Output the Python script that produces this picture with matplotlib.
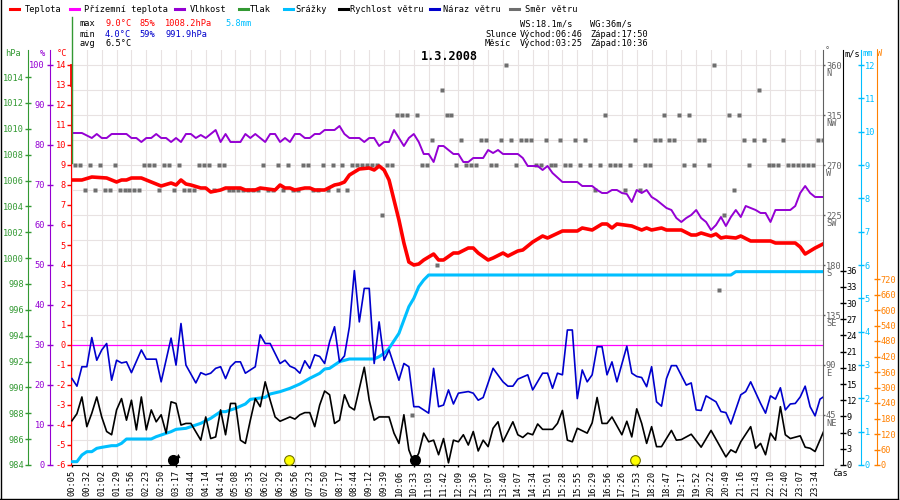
import numpy as np
import matplotlib
matplotlib.use("Agg")
import matplotlib.pyplot as plt
from matplotlib.lines import Line2D
from matplotlib.transforms import blended_transform_factory

# ---------------------------------------------------------------- data
TIME_LABELS = ["00:05", "00:32", "01:02", "01:29", "01:56", "02:23", "02:50", "03:17",
               "03:44", "04:14", "04:41", "05:08", "05:35", "06:02", "06:29", "06:56",
               "07:23", "07:50", "08:17", "08:44", "09:12", "09:39", "10:06", "10:33",
               "11:03", "11:42", "12:09", "12:36", "13:07", "13:40", "14:07", "14:34",
               "15:01", "15:28", "15:55", "16:29", "16:56", "17:26", "17:53", "18:20",
               "18:47", "19:17", "19:52", "20:22", "20:49", "21:16", "21:43", "22:10",
               "22:40", "23:07", "23:34"]
SAMPLES_PER_TICK = 3

# (sample index, value)
TEMPERATURE = [(0, 8.25), (2, 8.25), (4, 8.4), (7, 8.35), (9, 8.15), (10, 8.25), (11, 8.25),
               (12, 8.35), (14, 8.35), (16, 8.15), (18, 7.95), (20, 8.1), (21, 8.0), (22, 8.25),
               (23, 8.05), (24, 8.0), (26, 7.85), (27, 7.85), (28, 7.65), (30, 7.75), (31, 7.85),
               (34, 7.85), (35, 7.75), (37, 7.75), (38, 7.85), (41, 7.75), (42, 8.0), (43, 7.85),
               (44, 7.85), (45, 7.75), (47, 7.85), (48, 7.85), (49, 7.75), (51, 7.75), (53, 8.0),
               (54, 8.05), (55, 8.15), (56, 8.5), (58, 8.8), (60, 8.85), (61, 8.75), (62, 8.95),
               (63, 8.75), (64, 8.25), (65, 7.25), (66, 6.25), (67, 5.1), (68, 4.15), (69, 4.0),
               (70, 4.05), (71, 4.25), (73, 4.55), (74, 4.25), (75, 4.25), (77, 4.6), (78, 4.6),
               (80, 4.85), (81, 4.85), (82, 4.6), (84, 4.25), (85, 4.35), (87, 4.6), (88, 4.45),
               (90, 4.7), (91, 4.75), (93, 5.15), (95, 5.45), (96, 5.35), (99, 5.7), (102, 5.7),
               (103, 5.85), (105, 5.75), (107, 6.05), (108, 6.05), (109, 5.85), (110, 6.05),
               (113, 5.95), (115, 5.75), (116, 5.85), (117, 5.75), (119, 5.85), (120, 5.75),
               (123, 5.75), (125, 5.5), (126, 5.5), (127, 5.6), (129, 5.45), (130, 5.55),
               (131, 5.35), (132, 5.4), (134, 5.35), (135, 5.45), (137, 5.2), (141, 5.2),
               (142, 5.1), (146, 5.1), (147, 4.9), (148, 4.55), (149, 4.7), (150, 4.85), (152, 5.1)]

HUMIDITY = [(0, 83), (2, 83), (4, 81.75), (5, 82.75), (6, 81.75), (7, 81.75), (8, 82.75),
            (11, 82.75), (12, 81.75), (13, 81.75), (14, 80.75), (15, 81.75), (16, 81.75),
            (17, 82.75), (18, 81.75), (19, 81.75), (20, 80.75), (21, 81.75), (22, 80.75),
            (23, 82.75), (24, 82.75), (25, 81.75), (26, 82.5), (27, 81.75), (29, 83.75),
            (30, 80.75), (31, 82.75), (32, 80.75), (34, 80.75), (35, 82.75), (36, 81.75),
            (37, 82.75), (39, 80.75), (40, 82.75), (41, 82.75), (42, 80.75), (43, 81.75),
            (44, 80.75), (45, 82.75), (46, 82.75), (47, 81.75), (48, 81.75), (49, 82.75),
            (50, 82.75), (51, 83.75), (53, 83.75), (54, 84.75), (55, 82.75), (56, 81.75),
            (58, 81.75), (59, 80.75), (60, 81.75), (61, 81.75), (62, 79.75), (63, 80.75),
            (64, 80.75), (65, 83.75), (67, 79.75), (68, 81.75), (69, 82.75), (70, 80.75),
            (71, 77.75), (72, 77.75), (73, 75.75), (74, 79.75), (75, 79.75), (76, 78.75),
            (77, 77.75), (78, 77.75), (79, 75.75), (80, 75.75), (81, 76.75), (83, 76.75),
            (84, 78.75), (85, 78.0), (86, 78.75), (87, 77.75), (90, 77.75), (91, 76.75),
            (92, 74.75), (94, 74.75), (95, 73.75), (96, 74.75), (97, 73.0), (99, 70.75),
            (102, 70.75), (103, 69.75), (105, 69.75), (106, 68.75), (107, 68.0), (108, 68.0),
            (109, 68.75), (110, 68.75), (111, 68.0), (112, 67.75), (113, 65.75), (114, 68.75),
            (115, 68.0), (116, 68.75), (117, 67.0), (118, 66.25), (120, 64.25), (121, 63.75),
            (122, 61.75), (123, 60.75), (124, 61.75), (125, 62.5), (126, 63.75), (127, 61.75),
            (128, 60.75), (129, 58.75), (130, 60.0), (131, 62.0), (132, 59.75), (133, 62.0),
            (134, 63.75), (135, 62.0), (136, 64.75), (137, 64.25), (138, 63.75), (139, 63.0),
            (140, 63.0), (141, 60.75), (142, 63.75), (145, 63.75), (146, 64.75), (147, 68.0),
            (148, 69.75), (149, 68.0), (150, 67.0), (152, 67.0)]

RAIN_TOTAL = [(0, 0.1), (1, 0.1), (2, 0.3), (3, 0.4), (4, 0.4), (5, 0.5), (6, 0.53), (8, 0.58),
              (9, 0.58), (10, 0.65), (11, 0.78), (12, 0.78), (16, 0.78), (17, 0.85), (18, 0.9),
              (20, 1.0), (21, 1.07), (23, 1.1), (24, 1.15), (26, 1.25), (28, 1.4), (30, 1.6),
              (31, 1.6), (33, 1.7), (35, 1.83), (36, 1.97), (39, 2.03), (40, 2.13), (42, 2.2),
              (44, 2.3), (46, 2.43), (48, 2.6), (50, 2.75), (51, 2.88), (52, 2.9), (54, 3.1),
              (56, 3.18), (61, 3.18), (62, 3.25), (63, 3.35), (64, 3.5), (66, 3.95), (67, 4.35),
              (68, 4.75), (69, 5.0), (70, 5.35), (71, 5.55), (72, 5.7), (133, 5.7), (134, 5.8),
              (152, 5.8)]

WIND_SPEED = [(0, 8.2), (1, 9.5), (2, 12.6), (3, 7.1), (4, 9.6), (5, 12.6), (6, 8.9), (7, 6.2),
              (8, 5.6), (9, 10.2), (10, 12.3), (11, 8.3), (12, 12.0), (13, 6.5), (14, 12.6),
              (15, 6.5), (16, 10.2), (17, 8.0), (18, 9.3), (19, 5.9), (20, 11.7), (21, 11.4),
              (22, 7.4), (23, 7.7), (24, 7.7), (26, 4.6), (27, 8.9), (28, 4.9), (29, 5.2),
              (30, 10.2), (31, 5.6), (32, 11.4), (33, 11.4), (34, 4.6), (35, 4.0), (36, 8.3),
              (37, 12.3), (38, 10.8), (39, 15.4), (40, 12.0), (41, 8.9), (42, 8.1), (44, 8.9),
              (45, 8.5), (46, 9.3), (47, 9.7), (48, 9.7), (49, 7.1), (50, 11.1), (51, 13.7),
              (52, 13.0), (53, 7.7), (54, 8.3), (55, 13.0), (56, 10.8), (57, 10.2), (59, 18.1),
              (60, 12.0), (61, 8.3), (62, 8.9), (64, 8.9), (65, 5.9), (66, 4.0), (67, 9.3),
              (68, 2.8), (69, 0.4), (70, 2.2), (71, 5.9), (72, 4.3), (73, 4.6), (74, 1.9),
              (75, 4.9), (76, 0.4), (77, 4.6), (78, 4.3), (79, 5.6), (80, 3.7), (81, 6.2),
              (82, 2.6), (83, 4.6), (84, 3.4), (85, 6.8), (86, 8.0), (87, 4.3), (89, 8.0),
              (90, 5.6), (91, 5.1), (92, 5.9), (93, 5.6), (94, 7.6), (95, 6.6), (97, 6.6),
              (98, 7.7), (99, 10.1), (100, 4.6), (101, 4.3), (102, 6.8), (104, 5.9), (105, 7.8),
              (106, 12.5), (107, 7.7), (108, 7.7), (109, 8.9), (111, 5.6), (112, 8.1),
              (113, 5.2), (114, 10.4), (115, 7.7), (116, 4.0), (117, 7.1), (118, 3.4),
              (119, 3.4), (121, 6.4), (122, 4.6), (123, 4.7), (125, 5.7), (127, 3.3), (129, 6.4),
              (132, 1.5), (133, 2.8), (134, 2.3), (135, 4.3), (137, 7.1), (138, 3.1), (139, 4.0),
              (140, 1.9), (141, 5.9), (142, 4.6), (143, 10.8), (144, 5.6), (145, 4.9),
              (147, 5.4), (148, 3.3), (149, 3.1), (150, 2.5), (152, 6.8)]

WIND_GUST = [(0, 16.0), (1, 14.6), (2, 18.2), (3, 18.2), (4, 23.6), (5, 19.4), (6, 21.3),
             (7, 22.5), (8, 15.7), (9, 19.4), (10, 18.9), (11, 19.1), (12, 17.1), (14, 21.3),
             (15, 19.6), (17, 19.6), (18, 15.4), (20, 23.5), (21, 18.5), (22, 26.2), (23, 18.5),
             (25, 15.2), (26, 17.1), (27, 16.7), (28, 17.0), (29, 17.9), (30, 18.2), (31, 16.0),
             (32, 18.2), (33, 19.1), (34, 19.1), (35, 17.0), (36, 17.6), (37, 18.2), (38, 24.1),
             (39, 22.5), (40, 22.5), (42, 18.8), (43, 19.4), (44, 18.3), (45, 17.9), (46, 17.0),
             (47, 19.3), (48, 17.9), (49, 20.4), (50, 20.1), (51, 18.8), (52, 22.8), (53, 25.6),
             (54, 19.1), (55, 20.2), (56, 25.6), (57, 36.0), (58, 26.5), (59, 32.7), (60, 32.7),
             (61, 18.8), (62, 26.5), (63, 19.4), (64, 21.3), (66, 15.7), (67, 18.8), (68, 18.2),
             (69, 10.8), (70, 10.8), (72, 9.6), (73, 17.9), (74, 10.8), (75, 11.1), (76, 13.9),
             (77, 11.3), (78, 13.3), (80, 13.6), (81, 13.3), (82, 12.0), (83, 12.5), (85, 17.9),
             (87, 15.4), (88, 14.6), (89, 14.6), (90, 15.9), (92, 16.7), (93, 13.9), (95, 17.0),
             (96, 17.0), (97, 14.2), (98, 17.0), (99, 16.7), (100, 25.0), (101, 25.0),
             (102, 12.3), (103, 17.6), (104, 15.4), (105, 16.7), (106, 21.9), (107, 21.9),
             (108, 16.7), (109, 19.1), (110, 15.4), (112, 22.0), (113, 17.0), (114, 16.4),
             (115, 16.2), (116, 14.5), (117, 18.2), (118, 11.7), (119, 10.9), (120, 16.0),
             (121, 18.4), (122, 18.4), (124, 14.8), (125, 15.2), (126, 10.2), (127, 10.1),
             (128, 12.8), (130, 11.7), (131, 9.9), (132, 9.7), (133, 7.6), (135, 13.0),
             (136, 13.6), (137, 15.4), (139, 11.4), (140, 9.6), (141, 12.8), (142, 12.2),
             (143, 14.3), (144, 10.2), (145, 11.3), (146, 11.4), (147, 12.6), (148, 14.6),
             (149, 10.8), (150, 9.1), (151, 12.2), (152, 12.8)]

# wind direction in degrees, one value per sample starting at sample index -1
WIND_DIR_START = -1
WIND_DIR = [275, 270, 270, 247.5, 270, 247.5, 270, 247.5, 247.5, 270,
            247.5, 247.5, 247.5, 247.5, 247.5, 270, 270, 270, 247.5, 270,
            270, 247.5, 270, 247.5, 247.5, 247.5, 270, 270, 270, 247.5,
            270, 270, 247.5, 247.5, 247.5, 247.5, 247.5, 247.5, 247.5, 270,
            247.5, 247.5, 270, 247.5, 270, 247.5, 247.5, 270, 270, 247.5,
            247.5, 270, 247.5, 270, 247.5, 270, 247.5, 270, 270, 270,
            270, 270, 270, 225, 270, 270, 315, 315, 315, 45,
            315, 270, 270, 292.5, 180, 337.5, 315, 315, 270, 292.5,
            270, 270, 270, 292.5, 292.5, 270, 270, 292.5, 360, 292.5,
            270, 292.5, 292.5, 292.5, 270, 270, 292.5, 270, 270, 292.5,
            270, 270, 292.5, 270, 292.5, 270, 247.5, 270, 315, 270,
            270, 270, 247.5, 270, 292.5, 247.5, 270, 270, 292.5, 292.5,
            315, 292.5, 292.5, 315, 270, 315, 270, 292.5, 292.5, 270,
            360, 157.5, 225, 315, 247.5, 315, 292.5, 270, 292.5, 337.5,
            292.5, 270, 270, 270, 292.5, 270, 270, 270, 270, 270,
            270, 292.5, 292.5]

TEMP_TICKS = list(range(-6, 15))
HUM_TICKS = list(range(0, 101, 10))
PRESS_TICKS = list(range(984, 1015, 2))
DIR_TICKS = [45, 90, 135, 180, 225, 270, 315, 360]
COMPASS = ["NE", "E", "SE", "S", "SW", "W", "NW", "N"]
SPEED_TICKS = list(range(0, 37, 3))
RAIN_TICKS = list(range(0, 13))
RAD_TICKS = list(range(0, 721, 60))

SUNRISE, SUNSET = "06:46", "17:50"
MOONRISE, MOONSET = "03:25", "10:36"
TITLE = "1.3.2008"

# ---------------------------------------------------------------- style
RED = "#ff0000"; MAGENTA = "#ff00ff"; PURPLE = "#9400d3"; GREEN = "#339933"
CYAN = "#00bfff"; BLUE = "#0000cd"; GRAY = "#606060"; SQ_GRAY = "#6e6e6e"
ORANGE = "#ff8000"; GRID = "#e8e2e2"
MONO = "DejaVu Sans Mono"
FS = 6.2
PT = 0.72          # points per pixel at 100 dpi
W_PX, H_PX = 900, 500
TOP, BOT, LEFT, RIGHT = 50, 465, 71, 823
HGT = BOT - TOP

plt.rcParams["font.family"] = [MONO, "DejaVu Sans"]
plt.rcParams["font.size"] = FS

fig = plt.figure(figsize=(9, 5), dpi=100)
fig.patch.set_facecolor("white")


def fpos(px, py):
    return px / W_PX, 1 - py / H_PX


PLOT = [LEFT / W_PX, 1 - BOT / H_PX, (RIGHT - LEFT) / W_PX, HGT / H_PX]
X_LIM = (-0.2, 151.6)
ticks_x = np.arange(len(TIME_LABELS)) * SAMPLES_PER_TICK

# ------------------------------------------------ base axes: grid + direction
ax_dir = fig.add_axes(PLOT)
ax_dir.set_xlim(*X_LIM)
ax_dir.set_ylim(0, HGT / (400 / 360))
for d in np.arange(0, 361, 22.5):
    ax_dir.axhline(d, color=GRID, lw=0.8, zorder=0.5)
ax_dir.set_xticks(ticks_x)
ax_dir.set_xticklabels(TIME_LABELS, rotation=90, fontsize=FS)
ax_dir.grid(axis="x", color=GRID, lw=0.8)
ax_dir.set_axisbelow(True)
ax_dir.tick_params(axis="x", direction="out", length=2 * PT, width=1, pad=3 * PT)
for side in ("left", "top"):
    ax_dir.spines[side].set_visible(False)
ax_dir.spines["bottom"].set_color("black")
ax_dir.spines["right"].set_color(GRAY)
ax_dir.yaxis.tick_right()
ax_dir.set_yticks(DIR_TICKS)
ax_dir.set_yticklabels([str(d) for d in DIR_TICKS])
ax_dir.tick_params(axis="y", direction="out", length=2.5 * PT, width=1, color=GRAY,
                   labelcolor=GRAY, pad=0.5 * PT, labelsize=FS)
for d, c in zip(DIR_TICKS, COMPASS):
    ax_dir.annotate(c, xy=(1, d), xycoords=("axes fraction", "data"),
                    xytext=(3 * PT, -8.5 * PT), textcoords="offset points",
                    ha="left", va="center", color=GRAY, fontsize=FS, annotation_clip=False)
dir_idx = np.arange(len(WIND_DIR)) + WIND_DIR_START
ax_dir.plot(dir_idx + 0.6, WIND_DIR, "s", ms=5 * PT, color=SQ_GRAY, mec="none", ls="none",
            zorder=2)


def overlay(bottom, px_per_unit):
    a = fig.add_axes(PLOT, sharex=ax_dir)
    a.set_ylim(bottom, bottom + HGT / px_per_unit)
    a.patch.set_visible(False)
    for s in a.spines.values():
        s.set_visible(False)
    a.tick_params(axis="x", which="both", bottom=False, top=False, labelbottom=False)
    a.tick_params(axis="y", left=False, right=False, labelleft=False, labelright=False)
    return a


def side_axis(a, side, outward_px, color, ticks, direction, length_px, pad_px):
    sp = a.spines[side]
    sp.set_visible(True)
    sp.set_color(color)
    sp.set_position(("outward", outward_px * PT))
    a.yaxis.set_ticks_position(side)
    if side == "left":
        a.tick_params(axis="y", left=True, labelleft=True)
    else:
        a.tick_params(axis="y", right=True, labelright=True)
    a.set_yticks(ticks)
    a.set_yticklabels([str(t) for t in ticks])
    a.tick_params(axis="y", direction=direction, length=length_px * PT, width=1, color=color,
                  labelcolor=color, pad=pad_px * PT, labelsize=FS)
    return sp


def xy(pairs):
    arr = np.array(pairs, dtype=float)
    return arr[:, 0], arr[:, 1]


# pressure (axis only)
ax_press = overlay(984, 12.93)
side_axis(ax_press, "left", 43, GREEN, PRESS_TICKS, "inout", 6, 1)

# humidity
ax_hum = overlay(0, 4)
side_axis(ax_hum, "left", 21, PURPLE, HUM_TICKS, "inout", 6, 2)
ax_hum.plot(*xy(HUMIDITY), color=PURPLE, lw=1.4)

# temperature
ax_temp = overlay(-6, 20)
sp = side_axis(ax_temp, "left", 0, RED, TEMP_TICKS, "out", 4, 1)
sp.set_bounds(-6, 14)
ax_temp.axhline(0, color=MAGENTA, lw=0.9)
ax_temp.plot(*xy(TEMPERATURE), color=RED, lw=2.6, solid_capstyle="butt")
ax_temp.plot([X_LIM[0], X_LIM[0]], [14, 13], color=RED, lw=2.0, clip_on=False)

# precipitation
ax_rain = overlay(0, 100 / 3)
side_axis(ax_rain, "right", 38, CYAN, RAIN_TICKS, "inout", 6, 0.5)
ax_rain.plot(*xy(RAIN_TOTAL), color=CYAN, lw=2.2)

# wind speed and gust
ax_wind = overlay(0, 5.4)
side_axis(ax_wind, "right", 20, "black", SPEED_TICKS, "inout", 6, 0.5)
ax_wind.plot(*xy(WIND_GUST), color=BLUE, lw=1.2)
ax_wind.plot(*xy(WIND_SPEED), color="black", lw=1.2)

# solar radiation (axis only)
ax_rad = overlay(0, 186 / 720)
side_axis(ax_rad, "right", 54, ORANGE, RAD_TICKS, "inout", 6, 0.5)

# sun / moon events
label_min = [int(t[:2]) * 60 + int(t[3:]) for t in TIME_LABELS]


def time_pos(t):
    return np.interp(int(t[:2]) * 60 + int(t[3:]), label_min, ticks_x)


trans = blended_transform_factory(ax_wind.transData, ax_wind.transAxes)
yb = 5 / HGT
mr = time_pos(MOONRISE)
ax_wind.plot([mr - 1.4], [yb], "o", ms=7, color="black", transform=trans, clip_on=False,
             zorder=5)
ax_wind.annotate("", xy=(mr - 0.4, 14 / HGT), xytext=(mr - 0.4, 0), xycoords=trans,
                 textcoords=trans, arrowprops=dict(arrowstyle="->", lw=0.8, color="black",
                                                   mutation_scale=5), annotation_clip=False)
ax_wind.plot([time_pos(MOONSET)], [yb], "o", ms=7, color="black", transform=trans,
             clip_on=False, zorder=5)
for t in (SUNRISE, SUNSET):
    ax_wind.plot([time_pos(t)], [yb], "o", ms=7, mfc="#ffff00", mec="#707000", mew=0.8,
                 transform=trans, clip_on=False, zorder=5)

# ---------------------------------------------------------------- header texts
def ftext(px, py, s, color="black", **kw):
    x, y = fpos(px, py)
    fig.text(x, y, s, color=color, fontsize=kw.pop("fontsize", FS), va="center",
             ha=kw.pop("ha", "left"), **kw)


def fline(x0, y0, x1, y1, color, lw):
    a, b = fpos(x0, y0)
    c, d = fpos(x1, y1)
    fig.add_artist(Line2D([a, c], [b, d], transform=fig.transFigure, color=color, lw=lw))


legend_items = [("Teplota", RED, 10, 25), ("Přízemní teplota", MAGENTA, 70, 84),
                ("Vlhkost", PURPLE, 175, 190), ("Tlak", GREEN, 239, 250),
                ("Srážky", CYAN, 284, 295), ("Rychlost větru", "black", 339, 350),
                ("Náraz větru", BLUE, 430, 443), ("Směr větru", SQ_GRAY, 510, 525)]
for label, col, dx, tx in legend_items:
    fline(dx, 9, dx + 9, 9, col, 2.2)
    ftext(tx, 9, label)

ftext(80, 24, "max"); ftext(105, 24, "9.0°C", RED); ftext(139, 24, "85%", RED)
ftext(165, 24, "1008.2hPa", RED); ftext(225, 24, "5.8mm", CYAN)
ftext(80, 34, "min"); ftext(105, 34, "4.0°C", BLUE); ftext(139, 34, "59%", BLUE)
ftext(165, 34, "991.9hPa", BLUE)
ftext(80, 44, "avg"); ftext(105, 44, "6.5°C")

ftext(520, 24, "WS:18.1m/s"); ftext(590, 24, "WG:36m/s")
ftext(485, 34, "Slunce"); ftext(520, 34, "Východ:" + SUNRISE); ftext(590, 34, "Západ:" + SUNSET)
ftext(485, 44, "Měsíc"); ftext(520, 44, "Východ:" + MOONRISE); ftext(590, 44, "Západ:" + MOONSET)

ftext(449.5, 57, TITLE, ha="center", fontsize=8.6, fontweight="bold")

# axis unit labels
ftext(13, 53, "hPa", GREEN, ha="center")
ftext(42, 53, "%", PURPLE, ha="center")
ftext(62, 53, "°C", RED, ha="center")
ftext(827, 51, "°", GRAY, ha="center")
ftext(852, 54, "m/s", ha="center")
ftext(868, 54, "mm", CYAN, ha="center")
ftext(880, 54, "W", ORANGE, ha="center")
ftext(840, 473, "čas", ha="center")

# left-edge trace artefacts and border
fline(72, 17, 72, 163, GREEN, 1.0)
fline(0.5, 0, 0.5, 498.5, "black", 1.0)
fline(0, 498.5, 897.5, 498.5, "black", 1.0)
fline(897.5, 0, 897.5, 498.5, "black", 1.0)

fig.savefig("out.png", dpi=100)
